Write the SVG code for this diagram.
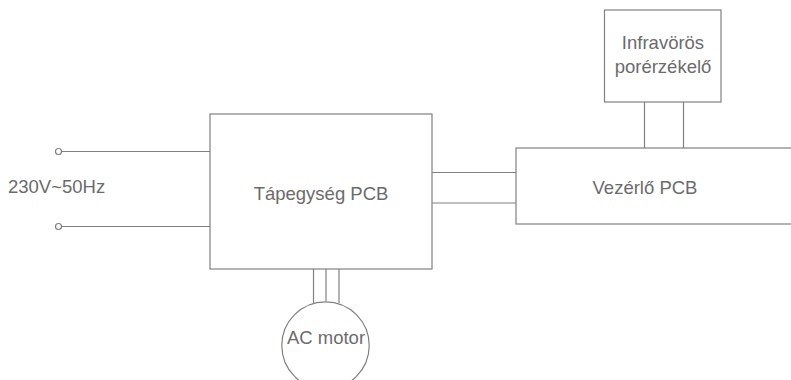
<svg xmlns="http://www.w3.org/2000/svg" width="791" height="380" viewBox="0 0 791 380">
<style>
.b{fill:#fff;stroke:#808080;stroke-width:1.2}
.l{fill:none;stroke:#808080;stroke-width:1.2}
.t{font-family:"Liberation Sans",Arial,sans-serif;font-size:18.5px;fill:#6b6b6b;text-anchor:middle}
</style>
<rect width="791" height="380" fill="#fff"/>
<g id="connectors">
<circle class="l" cx="58.5" cy="151.5" r="3"/>
<circle class="l" cx="58.5" cy="226.5" r="3"/>
<line class="l" x1="61.5" y1="151.5" x2="210" y2="151.5"/>
<line class="l" x1="61.5" y1="226.5" x2="210" y2="226.5"/>
<line class="l" x1="432" y1="172.5" x2="516" y2="172.5"/>
<line class="l" x1="432" y1="203" x2="516" y2="203"/>
<line class="l" x1="644.5" y1="102" x2="644.5" y2="148"/>
<line class="l" x1="683.5" y1="102" x2="683.5" y2="148"/>
<line class="l" x1="313.5" y1="269" x2="313.5" y2="303"/>
<line class="l" x1="326" y1="269" x2="326" y2="301.5"/>
<line class="l" x1="339" y1="269" x2="339" y2="303"/>
</g>
<text class="t" x="8" y="193" style="text-anchor:start">230V~50Hz</text>
<g id="tapegyseg">
<rect class="b" x="210" y="114" width="222" height="155"/>
<text class="t" x="321" y="200">Tápegység PCB</text>
</g>
<g id="vezerlo">
<rect class="b" x="516" y="148" width="300" height="76"/>
<text class="t" x="645" y="194">Vezérlő PCB</text>
</g>
<g id="infravoros">
<rect class="b" x="604.5" y="10" width="116.5" height="92"/>
<text class="t" x="663" y="49">Infravörös</text>
<text class="t" x="663" y="73">porérzékelő</text>
</g>
<g id="motor">
<circle class="b" cx="325.5" cy="345.5" r="43.7"/>
<text class="t" x="326" y="344">AC motor</text>
</g>
</svg>
